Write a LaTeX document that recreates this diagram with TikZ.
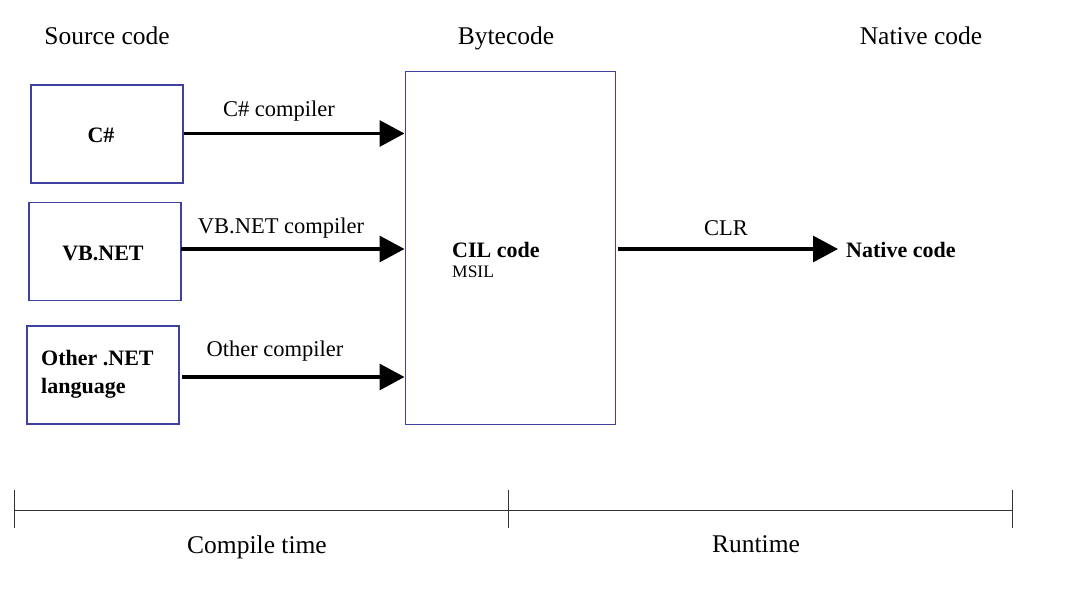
\documentclass[tikz,border=0pt]{standalone}
\usepackage{fontspec}
\setmainfont{Liberation Serif}
\usetikzlibrary{arrows.meta}
\definecolor{boxblue}{RGB}{64,64,160}
\begin{document}
\begin{tikzpicture}[x=1pt,y=-1pt,
  srcbox/.style={draw=boxblue,line width=1.3pt,inner sep=0pt,minimum width=152pt,minimum height=98pt},
  boxtxt/.style={inner sep=0pt,font=\fontsize{22}{28}\selectfont\bfseries},
  heading/.style={inner sep=0pt,anchor=base,font=\fontsize{25.5}{28}\selectfont},
  lbl/.style={inner sep=0pt,font=\fontsize{22.5}{24}\selectfont},
  flow/.style={line width=3.2pt,-{Triangle[length=25pt,width=26pt]}},
  tline/.style={line width=1pt,draw=black!80}]
\useasboundingbox (0,0) rectangle (1067,601);
% headings
\node[heading] (hsrc) at (107,45) {Source code};
\node[heading] (hbyte) at (506,45) {Bytecode};
\node[heading] (hnat) at (921,45) {Native code};
% source boxes
\node[srcbox] (cs) at (107,134) {};
\node[boxtxt] (cst) at (101,135) {C\#};
\node[srcbox] (vb) at (105,251.5) {};
\node[boxtxt] (vbt) at (103,253) {VB.NET};
\node[srcbox] (oth) at (103,375) {};
\node[boxtxt,align=left,anchor=west] (otht) at (41,374) {Other .NET\\language};
% bytecode box
\node[draw=boxblue,line width=1pt,minimum width=210pt,minimum height=352pt,inner sep=0pt] (cil) at (510,248) {};
\node[anchor=west,inner sep=0pt,font=\fontsize{22}{24}\selectfont\bfseries] (ciltxt) at (452,250) {CIL code};
\node[anchor=west,inner sep=0pt,font=\fontsize{17.5}{19}\selectfont] (msil) at (452,272) {MSIL};
% native code
\node[anchor=west,inner sep=0pt,font=\fontsize{22}{24}\selectfont\bfseries] (nat) at (846,250) {Native code};
% arrows
\coordinate (a1) at (183.7,133.5);
\coordinate (a2) at (181.3,249);
\coordinate (a3) at (182,377);
\coordinate (a4) at (618,249);
\coordinate (a4e) at (838,249);
\draw[flow] (a1) -- (a1 -| cil.west);
\draw[flow] (a2) -- (a2 -| cil.west);
\draw[flow] (a3) -- (a3 -| cil.west);
\draw[flow] (a4) -- (a4e);
% labels
\node[lbl] (l1) at (279,111) {C\# compiler};
\node[lbl] (l2) at (281,228) {VB.NET compiler};
\node[lbl] (l3) at (275,351) {Other compiler};
\node[lbl] (l4) at (726,228) {CLR};
% timeline
\coordinate (t0) at (14,510);
\coordinate (t1) at (508,510);
\coordinate (t2) at (1012,510);
\draw[tline] (t0) -- (t2);
\foreach \t in {t0,t1,t2} \draw[tline] ([yshift=-18pt]\t) -- ([yshift=20pt]\t);
\node[heading] (ct) at (257,553) {Compile time};
\node[heading] (rt) at (756,552) {Runtime};
\end{tikzpicture}
\end{document}
